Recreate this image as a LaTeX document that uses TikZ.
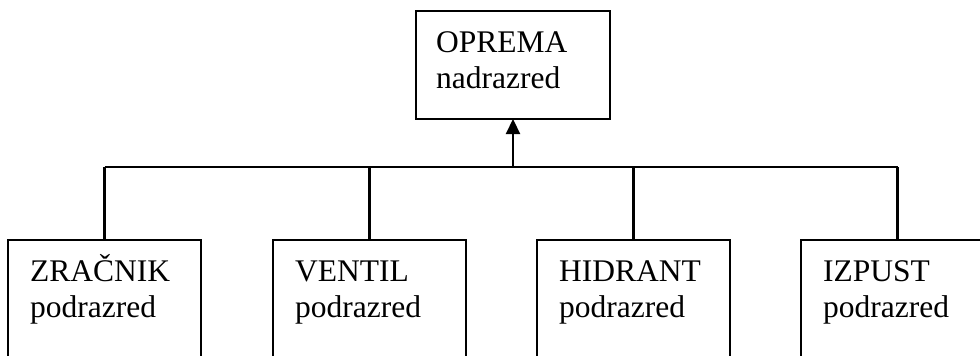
\documentclass[tikz,border=0pt]{standalone}
\usepackage{fontspec}
\setmainfont{Liberation Serif}
\usetikzlibrary{arrows.meta}
\begin{document}
\begin{tikzpicture}[x=1pt,y=-1pt,
  line width=2.2pt,
  classbox/.style={draw, rectangle, anchor=north west, inner sep=0pt, outer sep=0pt,
    minimum width=193pt},
  classtext/.style={anchor=base west, align=left, inner sep=0pt,
    font=\fontsize{31.5}{36}\selectfont},
  link/.style={line cap=rect}]
  \useasboundingbox (0,0) rectangle (980,356);
  \clip (0,0) rectangle (980,356);

  % superclass
  \node[classbox, minimum width=194pt, minimum height=108pt] (top) at (416,11) {};
  \node[classtext] (toptxt) at ([xshift=19pt,yshift=-77pt]top.north west) {OPREMA\\nadrazred};

  % subclasses
  \node[classbox, minimum height=150pt] (zr) at (8,240) {};
  \node[classbox, minimum height=150pt] (ve) at (273,240) {};
  \node[classbox, minimum height=150pt] (hi) at (537,240) {};
  \node[classbox, minimum height=150pt] (iz) at (801,240) {};

  \node[classtext] (zrtxt) at ([xshift=21pt,yshift=-77pt]zr.north west) {ZRAČNIK\\podrazred};
  \node[classtext] (vetxt) at ([xshift=21pt,yshift=-77pt]ve.north west) {VENTIL\\podrazred};
  \node[classtext] (hitxt) at ([xshift=21pt,yshift=-77pt]hi.north west) {HIDRANT\\podrazred};
  \node[classtext] (iztxt) at ([xshift=21pt,yshift=-77pt]iz.north west) {IZPUST\\podrazred};

  % connector bus
  \coordinate (bus) at (513,167);
  \draw ([xshift=-96.5pt]zr.north east |- bus) -- ([xshift=-96.5pt]iz.north east |- bus);
  \draw ([xshift=-96.5pt]zr.north east) -- ([xshift=-96.5pt]zr.north east |- bus);
  \draw ([xshift=-96.5pt]ve.north east) -- ([xshift=-96.5pt]ve.north east |- bus);
  \draw ([xshift=-96.5pt]hi.north east) -- ([xshift=-96.5pt]hi.north east |- bus);
  \draw ([xshift=-96.5pt]iz.north east) -- ([xshift=-96.5pt]iz.north east |- bus);
  \draw[-{Triangle[length=15pt,width=14pt]}] (bus) -- (bus |- top.south);
\end{tikzpicture}
\end{document}
